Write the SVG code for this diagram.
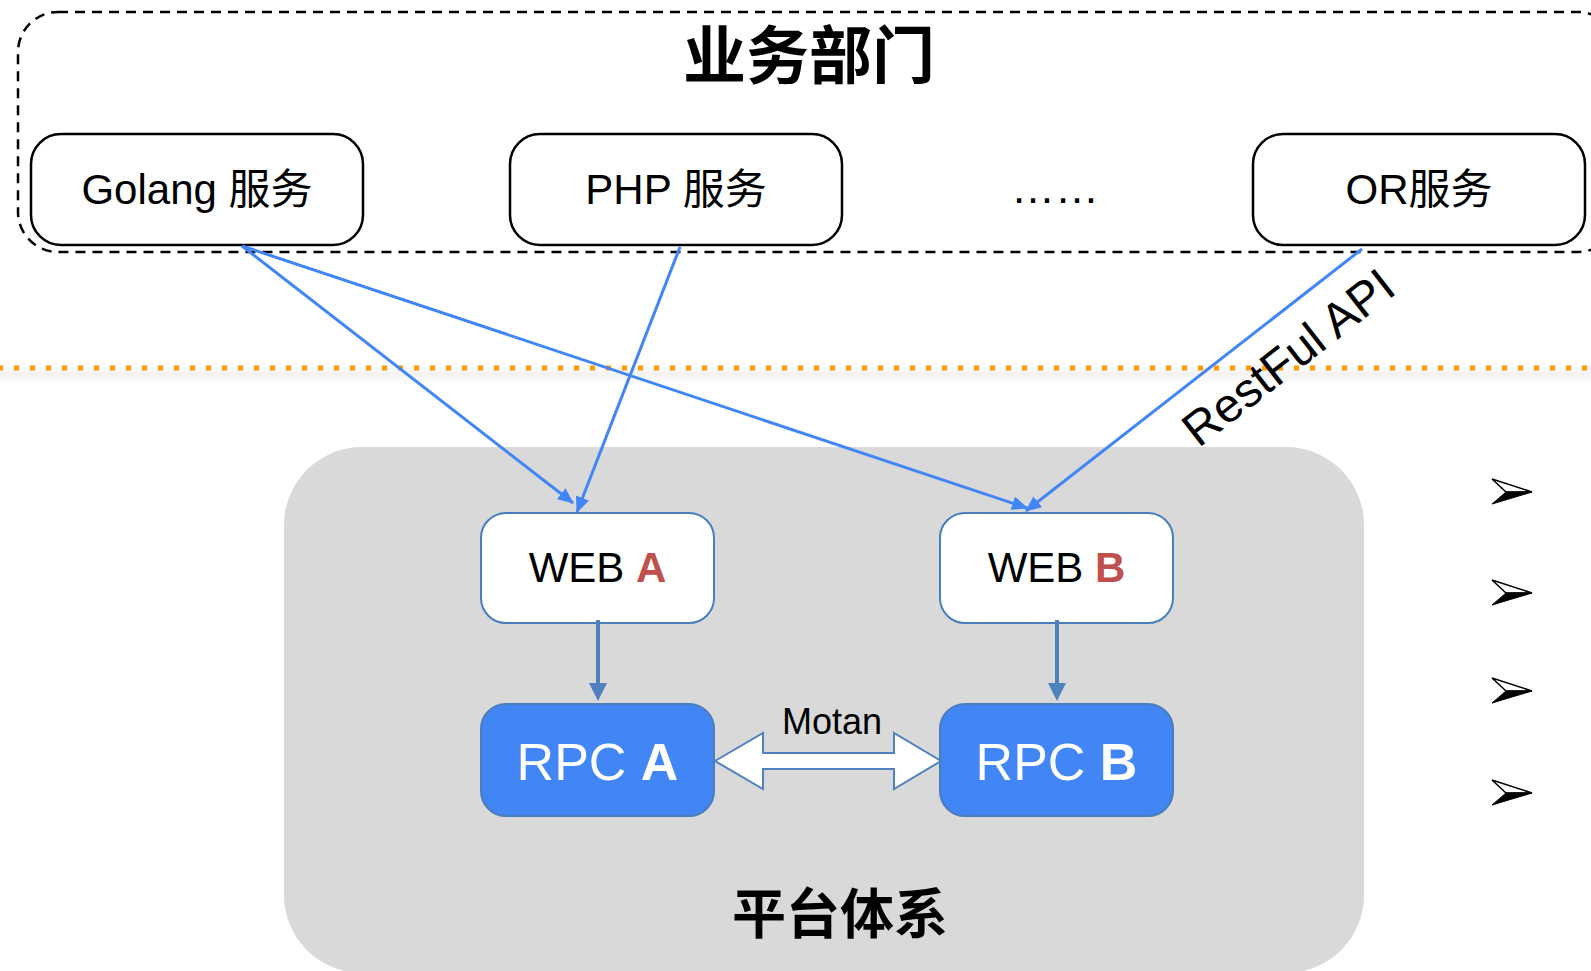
<svg xmlns="http://www.w3.org/2000/svg" width="1591" height="971" viewBox="0 0 1591 971">
<defs>
<style>
.svc{fill:#fff;stroke:#000;stroke-width:2.5}
.t{font-family:"Liberation Sans","Noto Sans CJK SC",Arial,sans-serif;fill:#000}
.cjk{font-family:"Noto Sans CJK SC","Liberation Sans",sans-serif;font-weight:bold;fill:#000}
.web{fill:#fff;stroke:#4A7EBB;stroke-width:2}
.rpc{fill:#4285F4;stroke:#4A7EBB;stroke-width:2}
.conn{stroke:#4285F4;stroke-width:3;fill:none;marker-end:url(#ah)}
.down{stroke:#4F81BD;stroke-width:4;fill:none}
.red{fill:#C0504D;font-weight:bold}
</style>
<marker id="ah" viewBox="0 0 16 14" refX="15" refY="7" markerWidth="16" markerHeight="14" markerUnits="userSpaceOnUse" orient="auto">
<path d="M0,0 L16,7 L0,14 z" fill="#4285F4"/>
</marker>
<linearGradient id="sh" x1="0" y1="0" x2="0" y2="1">
<stop offset="0" stop-color="#fff"/>
<stop offset="0.5" stop-color="#f3f3f3"/>
<stop offset="1" stop-color="#fff"/>
</linearGradient>
<path id="bul" d="M1532,492 L1492,479 L1506,492 z"/>
</defs>
<rect width="1591" height="971" fill="#fff"/>

<g id="business-dept">
<rect x="18" y="12" width="1600" height="240" rx="40" fill="none" stroke="#000" stroke-width="2.5" stroke-dasharray="10 7"/>
<text class="cjk" x="809" y="78" font-size="63" text-anchor="middle">业务部门</text>
</g>

<g id="divider">
<rect x="0" y="362" width="1591" height="24" fill="url(#sh)"/>
<line x1="0" y1="368" x2="1591" y2="368" stroke="#FF9900" stroke-width="5" stroke-dasharray="5 11" stroke-dashoffset="2"/>
</g>

<g id="platform">
<rect x="284" y="447" width="1080" height="526" rx="78" fill="#D9D9D9"/>
<text class="cjk" x="840" y="934" font-size="54" text-anchor="middle">平台体系</text>
</g>

<g id="golang">
<rect class="svc" x="31" y="134" width="332" height="111" rx="30"/>
<text class="t" x="197" y="204" font-size="42" text-anchor="middle">Golang 服务</text>
</g>
<g id="php">
<rect class="svc" x="510" y="134" width="332" height="111" rx="30"/>
<text class="t" x="676" y="204" font-size="42" text-anchor="middle">PHP 服务</text>
</g>
<g id="ellipsis">
<text class="t" x="1055" y="203" font-size="44" text-anchor="middle">……</text>
</g>
<g id="or">
<rect class="svc" x="1253" y="134" width="332" height="111" rx="30"/>
<text class="t" x="1419" y="204" font-size="42" text-anchor="middle">OR服务</text>
</g>

<g id="web-a">
<rect class="web" x="481" y="513" width="233" height="110" rx="25"/>
<text class="t" x="597.5" y="582" font-size="42" text-anchor="middle">WEB <tspan class="red">A</tspan></text>
</g>
<g id="web-b">
<rect class="web" x="940" y="513" width="233" height="110" rx="25"/>
<text class="t" x="1056.5" y="582" font-size="42" text-anchor="middle">WEB <tspan class="red">B</tspan></text>
</g>
<g id="rpc-a">
<rect class="rpc" x="481" y="704" width="233" height="112" rx="25"/>
<text class="t" x="597.5" y="780" font-size="52" text-anchor="middle" style="fill:#fff">RPC <tspan font-weight="bold">A</tspan></text>
</g>
<g id="rpc-b">
<rect class="rpc" x="940" y="704" width="233" height="112" rx="25"/>
<text class="t" x="1056.5" y="780" font-size="52" text-anchor="middle" style="fill:#fff">RPC <tspan font-weight="bold">B</tspan></text>
</g>

<g id="connectors">
<line class="conn" x1="242" y1="246" x2="573" y2="503"/>
<line class="conn" x1="242" y1="246" x2="1027" y2="508"/>
<line class="conn" x1="680" y1="247" x2="577" y2="512"/>
<line class="conn" x1="1362" y1="249" x2="1026" y2="511"/>
<text class="t" font-size="48" text-anchor="middle" transform="translate(1288,357) rotate(-38)" y="17">RestFul API</text>
<line class="down" x1="598" y1="620" x2="598" y2="685"/>
<path d="M589,683 L607,683 L598,701 z" fill="#4F81BD"/>
<line class="down" x1="1057" y1="620" x2="1057" y2="685"/>
<path d="M1048,683 L1066,683 L1057,701 z" fill="#4F81BD"/>
<path d="M715,761 L763,733 L763,753 L894,753 L894,733 L941,761 L894,789 L894,769 L763,769 L763,789 z" fill="#fff" stroke="#4F81BD" stroke-width="2" stroke-linejoin="miter"/>
<text class="t" x="832" y="734" font-size="36" text-anchor="middle">Motan</text>
</g>

<g id="bullets">
<g id="b1" transform="translate(0,0)">
<path d="M1532,492 L1492,479 L1506,492 z" fill="#fff" stroke="#000" stroke-width="1.5"/>
<path d="M1532,492 L1506,492 L1492,504 z" fill="#000" stroke="#000" stroke-width="1"/>
</g>
<g id="b2" transform="translate(0,101)">
<path d="M1532,492 L1492,479 L1506,492 z" fill="#fff" stroke="#000" stroke-width="1.5"/>
<path d="M1532,492 L1506,492 L1492,504 z" fill="#000" stroke="#000" stroke-width="1"/>
</g>
<g id="b3" transform="translate(0,199)">
<path d="M1532,492 L1492,479 L1506,492 z" fill="#fff" stroke="#000" stroke-width="1.5"/>
<path d="M1532,492 L1506,492 L1492,504 z" fill="#000" stroke="#000" stroke-width="1"/>
</g>
<g id="b4" transform="translate(0,301)">
<path d="M1532,492 L1492,479 L1506,492 z" fill="#fff" stroke="#000" stroke-width="1.5"/>
<path d="M1532,492 L1506,492 L1492,504 z" fill="#000" stroke="#000" stroke-width="1"/>
</g>
</g>
</svg>
